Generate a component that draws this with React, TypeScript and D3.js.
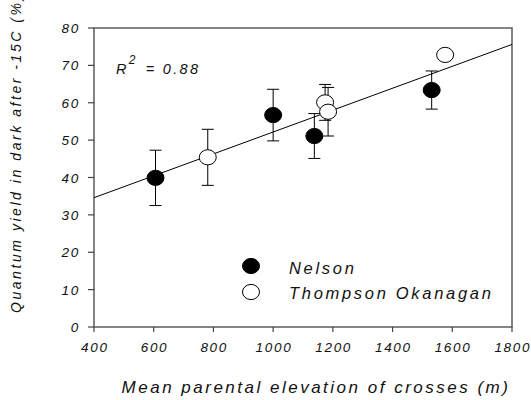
import React from "react";
import * as d3 from "d3";

const nelsonX = [606, 1000, 1138, 1531];
const nelsonY = [39.9, 56.7, 51.1, 63.4];
const nelsonErr = [7.4, 6.9, 6.0, 5.1];

const thompsonX = [781, 1174, 1184, 1576];
const thompsonY = [45.4, 60.1, 57.6, 72.8];
const thompsonErr = [7.5, 4.8, 6.5, 0];

const xTicks = [400, 600, 800, 1000, 1200, 1400, 1600, 1800];
const yTicks = [0, 10, 20, 30, 40, 50, 60, 70, 80];

const fitX = [400, 1800];
const fitY = [34.6, 75.6];

const legendLabels = ["Nelson", "Thompson Okanagan"];
const r2Label = "0.88";

const W = 531;
const H = 400;
const M = { left: 94, right: 512, top: 28, bottom: 327 };
const FONT = "Liberation Sans, Arial, sans-serif";

export default function App() {
  const x = d3.scaleLinear().domain([400, 1800]).range([M.left, M.right]);
  const y = d3.scaleLinear().domain([0, 80]).range([M.bottom, M.top]);
  const line = d3.line<[number, number]>().x((d) => x(d[0])).y((d) => y(d[1]));
  const fitPts: [number, number][] = fitX.map((v, i) => [v, fitY[i]]);
  const rx = 8.5;
  const ry = 7.6;
  const capW = 6;

  const errBars = (xs: number[], ys: number[], es: number[], key: string) =>
    xs.map((xv, i) =>
      es[i] > 0 ? (
        <g key={key + i} stroke="#000" strokeWidth={1}>
          <line x1={x(xv)} x2={x(xv)} y1={y(ys[i] - es[i])} y2={y(ys[i] + es[i])} />
          <line x1={x(xv) - capW} x2={x(xv) + capW} y1={y(ys[i] + es[i])} y2={y(ys[i] + es[i])} />
          <line x1={x(xv) - capW} x2={x(xv) + capW} y1={y(ys[i] - es[i])} y2={y(ys[i] - es[i])} />
        </g>
      ) : null
    );

  return (
    <svg width={W} height={H} style={{ position: "absolute", left: 0, top: 0 }} fontFamily={FONT}>
      <rect x={0} y={0} width={W} height={H} fill="#fff" />
      {/* frame */}
      <rect
        x={M.left}
        y={M.top}
        width={M.right - M.left}
        height={M.bottom - M.top}
        fill="none"
        stroke="#666"
        strokeWidth={1.6}
      />
      {/* x ticks */}
      {xTicks.map((t) => (
        <g key={"xt" + t}>
          <line x1={x(t)} x2={x(t)} y1={M.bottom} y2={M.bottom + 5} stroke="#444" strokeWidth={1.2} />
          <text
            x={x(t) + 0.8}
            y={352}
            textAnchor="middle"
            fontSize={13.5}
            fontStyle="italic"
            letterSpacing={1.7}
            fill="#111"
          >
            {t}
          </text>
        </g>
      ))}
      {/* y ticks */}
      {yTicks.map((t) => (
        <g key={"yt" + t}>
          <line x1={M.left - 6} x2={M.left} y1={y(t)} y2={y(t)} stroke="#444" strokeWidth={1.2} />
          <text
            x={80}
            y={y(t) + 5}
            textAnchor="end"
            fontSize={13.5}
            fontStyle="italic"
            letterSpacing={1.7}
            fill="#111"
          >
            {t}
          </text>
        </g>
      ))}
      {/* fit line */}
      <path d={line(fitPts) || ""} fill="none" stroke="#000" strokeWidth={1} />
      {/* error bars */}
      {errBars(nelsonX, nelsonY, nelsonErr, "ne")}
      {errBars(thompsonX, thompsonY, thompsonErr, "te")}
      {/* markers */}
      {nelsonX.map((xv, i) => (
        <ellipse key={"n" + i} cx={x(xv)} cy={y(nelsonY[i])} rx={rx} ry={ry} fill="#000" stroke="#000" />
      ))}
      {thompsonX.map((xv, i) => (
        <ellipse key={"t" + i} cx={x(xv)} cy={y(thompsonY[i])} rx={rx} ry={ry} fill="#fff" stroke="#000" />
      ))}
      {/* R2 */}
      <text x={116} y={74} fontSize={14.5} fontStyle="italic" letterSpacing={2.3} fill="#111">
        R
        <tspan dy={-10} fontSize={12}>2</tspan>
        <tspan dy={10} dx={8}>{"= " + r2Label}</tspan>
      </text>
      {/* legend */}
      <ellipse cx={251} cy={266} rx={rx} ry={ry} fill="#000" stroke="#000" />
      <ellipse cx={251} cy={292} rx={rx} ry={ry} fill="#fff" stroke="#000" />
      {legendLabels.map((l, i) => (
        <text
          key={l}
          x={289}
          y={274 + i * 25}
          fontSize={16.5}
          fontStyle="italic"
          letterSpacing={2.7}
          fill="#111"
        >
          {l}
        </text>
      ))}
      {/* axis titles */}
      <text
        x={316}
        y={393}
        textAnchor="middle"
        fontSize={17}
        fontStyle="italic"
        letterSpacing={2.5}
        fill="#111"
      >
        Mean parental elevation of crosses (m)
      </text>
      <text
        transform={`translate(21, 313) rotate(-90)`}
        x={0}
        y={0}
        textAnchor="start"
        fontSize={14}
        fontStyle="italic"
        letterSpacing={2.55}
        fill="#111"
      >
        Quantum yield in dark after -15C (%)
      </text>
    </svg>
  );
}
